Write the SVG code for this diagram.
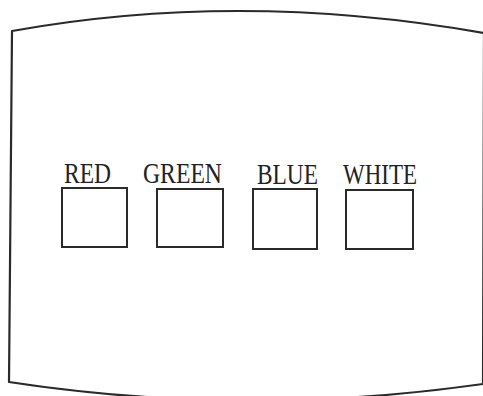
<svg xmlns="http://www.w3.org/2000/svg" width="483" height="396" viewBox="0 0 483 396">
<style>
.frame{fill:none;stroke:#2a2a2a;stroke-width:2.2;stroke-linejoin:round}
.box{fill:#fff;stroke:#2a2a2a;stroke-width:2}
.lbl{font-family:"Liberation Serif","DejaVu Serif",serif;font-size:29px;fill:#222;font-weight:normal}
</style>
<rect width="483" height="396" fill="#fff"/>
<g id="screen">
<path class="frame" d="M12,31 Q240,-10 484,33 L483,384 Q245,418 9,382 Z"/>
</g>
<g id="red">
<text class="lbl" x="64" y="183" textLength="47" lengthAdjust="spacingAndGlyphs">RED</text>
<rect class="box" x="62" y="188" width="65" height="59"/>
</g>
<g id="green">
<text class="lbl" x="143" y="183" textLength="79" lengthAdjust="spacingAndGlyphs">GREEN</text>
<rect class="box" x="157" y="189" width="66" height="58"/>
</g>
<g id="blue">
<text class="lbl" x="257" y="184" textLength="61" lengthAdjust="spacingAndGlyphs">BLUE</text>
<rect class="box" x="253" y="189" width="64" height="60"/>
</g>
<g id="white">
<text class="lbl" x="343" y="184" textLength="74" lengthAdjust="spacingAndGlyphs">WHITE</text>
<rect class="box" x="346" y="190" width="67" height="59"/>
</g>
</svg>
